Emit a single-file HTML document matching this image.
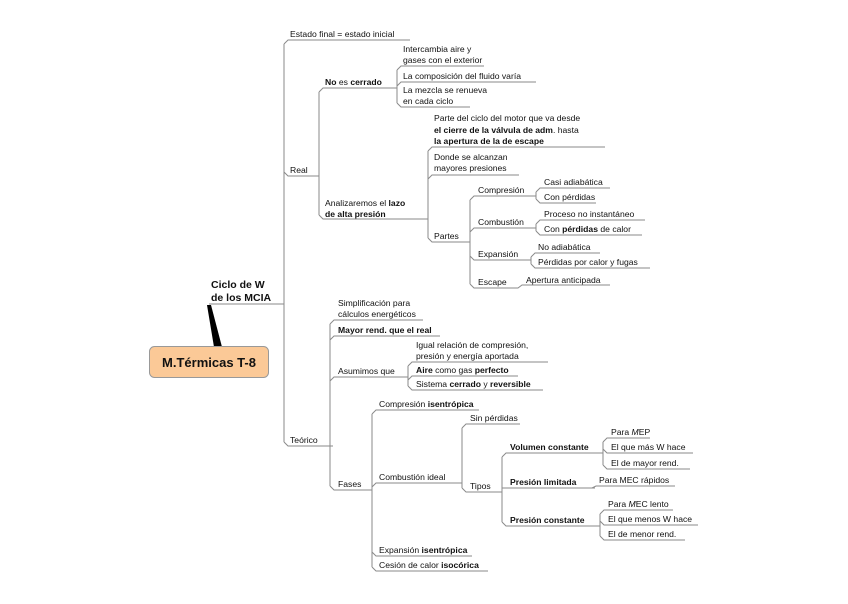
<!DOCTYPE html>
<html><head><meta charset="utf-8"><style>
html,body{margin:0;padding:0;background:#fff}
svg text{font-family:"Liberation Sans",sans-serif;font-size:8.6px;fill:#111}
.b{font-weight:bold}
</style></head><body>
<svg width="848" height="599" viewBox="0 0 848 599" xmlns="http://www.w3.org/2000/svg">
<g fill="none" stroke="#8a8a8a" stroke-width="1">
<!-- root spine -->
<path d="M209,304H284M284,44V442"/>
<path d="M284,44L288,40H410M284,172L288,176H318M284,442L288,446H333"/>
<!-- Real -->
<path d="M318,176H319M319,92V215"/>
<path d="M319,92L323,88H395M319,215L323,219H418"/>
<!-- No es cerrado -->
<path d="M395,88H397M397,70V103"/>
<path d="M397,70L401,66H484M397,86L401,82H536M397,103L401,107H470"/>
<!-- Analizaremos -->
<path d="M418,219H428M428,151V238"/>
<path d="M428,151L432,147H605M428,179L432,175H519M428,238L432,242H462"/>
<!-- Partes -->
<path d="M462,242H470M470,200V284"/>
<path d="M470,200L474,196H528M470,232L474,228H527M470,256L474,260H522M470,284L474,288H508"/>
<path d="M528,196H536M536,192V199M536,192L540,188H610M536,199L540,203H596"/>
<path d="M527,228H536M536,224V231M536,224L540,220H645M536,231L540,235H642"/>
<path d="M522,260H531M531,257V264M531,257L535,253H600M531,264L535,268H650"/>
<path d="M508,288H518L522,285H610"/>
<!-- Teorico -->
<path d="M333,446H330M330,324V486"/>
<path d="M330,324L334,320H423M330,340L334,336H440M330,381L334,377H397M330,486L334,490H365"/>
<!-- Asumimos -->
<path d="M397,377H408M408,366V386"/>
<path d="M408,366L412,362H548M408,380L412,376H518M408,386L412,390H543"/>
<!-- Fases -->
<path d="M365,490H372M372,414V567"/>
<path d="M372,414L376,410H479M372,487L376,483H460M372,552L376,556H472M372,567L376,571H488"/>
<!-- Combustion ideal -->
<path d="M460,483H462M462,428V488"/>
<path d="M462,428L466,424H520M462,488L466,492H495"/>
<!-- Tipos -->
<path d="M495,492H502M502,457V522"/>
<path d="M502,457L506,453H595M502,488H595M502,522L506,526H597"/>
<!-- Volumen -->
<path d="M595,453H603M603,442V465"/>
<path d="M603,442L607,438H650M603,449L607,453H693M603,465L607,469H690"/>
<path d="M585,488H592L596,486H675"/>
<!-- Presion constante -->
<path d="M597,526H600M600,514V536"/>
<path d="M600,514L604,510H673M600,521L604,525H698M600,536L604,540H685"/>
</g>
<!-- root -->
<polygon points="207,305 211,305 222,347 214,347" fill="#000"/>
<rect x="149.5" y="346.5" width="119" height="31" rx="5" fill="#fbc997" stroke="#999"/>
<text x="209" y="367" text-anchor="middle" class="b" style="font-size:13px">M.Térmicas T-8</text>
<text x="211" y="288" class="b" style="font-size:10.5px">Ciclo de W</text>
<text x="211" y="301" class="b" style="font-size:10.5px">de los MCIA</text>

<text x="290" y="37">Estado final = estado inicial</text>
<text x="290" y="173">Real</text>
<text x="290" y="443">Teórico</text>
<text x="325" y="85"><tspan class="b">No</tspan> es <tspan class="b">cerrado</tspan></text>
<text x="325" y="206">Analizaremos el <tspan class="b">lazo</tspan></text>
<text x="325" y="217" class="b">de alta presión</text>
<text x="403" y="52">Intercambia aire y</text>
<text x="403" y="63">gases con el exterior</text>
<text x="403" y="79">La composición del fluido varía</text>
<text x="403" y="93">La mezcla se renueva</text>
<text x="403" y="104">en cada ciclo</text>
<text x="434" y="121">Parte del ciclo del motor que va desde</text>
<text x="434" y="133"><tspan class="b">el cierre de la válvula de adm</tspan>.   hasta</text>
<text x="434" y="144" class="b">la apertura de la de escape</text>
<text x="434" y="160">Donde se alcanzan</text>
<text x="434" y="171">mayores presiones</text>
<text x="434" y="239">Partes</text>
<text x="478" y="193">Compresión</text>
<text x="478" y="225">Combustión</text>
<text x="478" y="257">Expansión</text>
<text x="478" y="285">Escape</text>
<text x="544" y="185">Casi adiabática</text>
<text x="544" y="200">Con pérdidas</text>
<text x="544" y="217">Proceso no instantáneo</text>
<text x="544" y="232">Con <tspan class="b">pérdidas</tspan> de calor</text>
<text x="538" y="250">No adiabática</text>
<text x="538" y="265">Pérdidas por calor y fugas</text>
<text x="526" y="283">Apertura anticipada</text>

<text x="338" y="306">Simplificación para</text>
<text x="338" y="317">cálculos energéticos</text>
<text x="338" y="333" class="b">Mayor rend. que el real</text>
<text x="338" y="374">Asumimos que</text>
<text x="338" y="487">Fases</text>
<text x="416" y="348">Igual relación de compresión,</text>
<text x="416" y="359">presión y energía aportada</text>
<text x="416" y="373"><tspan class="b">Aire</tspan> como gas <tspan class="b">perfecto</tspan></text>
<text x="416" y="387">Sistema <tspan class="b">cerrado</tspan> y <tspan class="b">reversible</tspan></text>
<text x="379" y="407">Compresión <tspan class="b">isentrópica</tspan></text>
<text x="379" y="480">Combustión ideal</text>
<text x="379" y="553">Expansión <tspan class="b">isentrópica</tspan></text>
<text x="379" y="568">Cesión de calor <tspan class="b">isocórica</tspan></text>
<text x="470" y="421">Sin pérdidas</text>
<text x="470" y="489">Tipos</text>
<text x="510" y="450" class="b">Volumen constante</text>
<text x="510" y="485" class="b">Presión limitada</text>
<text x="510" y="523" class="b">Presión constante</text>
<text x="611" y="435">Para <tspan font-style="italic">M</tspan>EP</text>
<text x="611" y="450">El que más W hace</text>
<text x="611" y="466">El de mayor rend.</text>
<text x="599" y="483">Para MEC rápidos</text>
<text x="608" y="507">Para <tspan font-style="italic">M</tspan>EC lento</text>
<text x="608" y="522">El que menos W hace</text>
<text x="608" y="537">El de menor rend.</text>
</svg>
</body></html>
